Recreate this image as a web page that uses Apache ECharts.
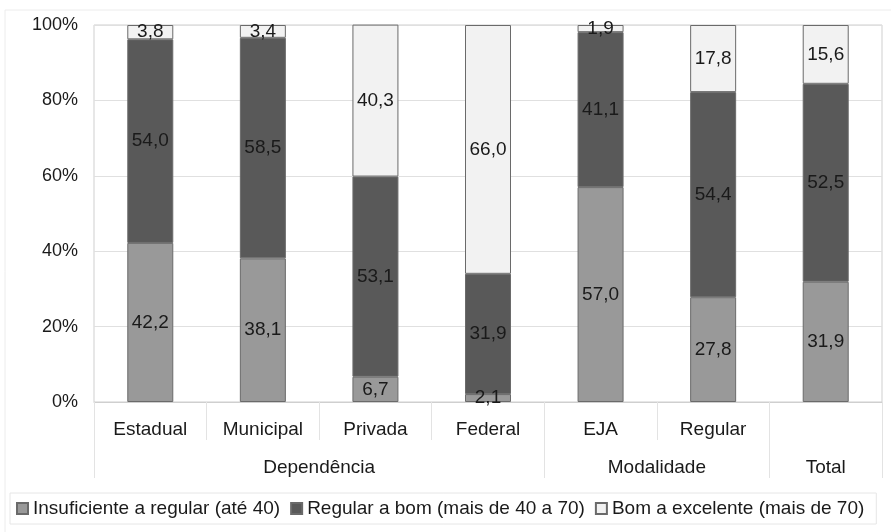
<!DOCTYPE html>
<html>
<head>
<meta charset="utf-8">
<script src="https://cdn.jsdelivr.net/npm/echarts@6/dist/echarts.min.js"></script>
<style>
  html, body { margin: 0; padding: 0; background: #fff; }
  #chart { width: 891px; height: 532px; }
</style>
</head>
<body>
<div id="chart"></div>
<script>
// Categories (first label row) and their groups (second label row)
const categories = ['Estadual', 'Municipal', 'Privada', 'Federal', 'EJA', 'Regular', ''];
const groupNames = ['Dependência', 'Modalidade', 'Total'];
const groupSpans = [4, 2, 1];

// Percentages per performance band
const seriesNames = [
  'Insuficiente a regular (até 40)',
  'Regular a bom (mais de 40 a 70)',
  'Bom a excelente (mais de 70)'
];
const insuficiente = [42.2, 38.1, 6.7, 2.1, 57.0, 27.8, 31.9];
const regularBom   = [54.0, 58.5, 53.1, 31.9, 41.1, 54.4, 52.5];
const bomExcelente = [3.8, 3.4, 40.3, 66.0, 1.9, 17.8, 15.6];

const yTicks = [0, 20, 40, 60, 80, 100];

const colors = ['#999999', '#595959', '#f2f2f2'];
const FONT = 'Liberation Sans, Arial, sans-serif';

// Group boundaries and centres along a 0..N value axis
const boundaries = [0];
const centres = [];
groupSpans.forEach(function (s) {
  const start = boundaries[boundaries.length - 1];
  centres.push(start + s / 2);
  boundaries.push(start + s);
});

const fmt = v => v.toFixed(1).replace('.', ',');

const chart = echarts.init(document.getElementById('chart'), null, { renderer: 'canvas' });

const seriesData = [insuficiente, regularBom, bomExcelente];

chart.setOption({
  animation: false,
  backgroundColor: '#ffffff',
  graphic: [{
    type: 'rect',
    shape: { x: 5, y: 10, width: 900, height: 540 },
    style: { fill: 'none', stroke: '#ececec', lineWidth: 1 },
    silent: true,
    z: -10
  }],
  grid: {
    left: 94, right: 9, top: 25, bottom: 130,
    show: true, borderColor: '#cfcfcf', borderWidth: 1
  },
  legend: {
    left: 10, top: 493,
    padding: [6, 12, 6, 6],
    itemWidth: 11, itemHeight: 11, itemGap: 10,
    borderColor: '#e6e6e6', borderWidth: 1,
    icon: 'rect',
    textStyle: { fontFamily: FONT, fontSize: 19, color: '#1a1a1a' },
    data: seriesNames
  },
  xAxis: [{
    type: 'category',
    data: categories,
    position: 'bottom',
    axisLine: { show: true, lineStyle: { color: '#cfcfcf' } },
    axisTick: { show: true, length: 38, lineStyle: { color: '#e3e3e3' } },
    axisLabel: { fontFamily: FONT, fontSize: 19, color: '#1a1a1a', margin: 18, interval: 0 },
    splitLine: { show: false }
  }, {
    type: 'value',
    min: 0, max: categories.length,
    position: 'bottom',
    axisLine: { show: false },
    axisTick: { show: true, length: 76, customValues: boundaries, lineStyle: { color: '#e3e3e3' } },
    axisLabel: {
      show: true, customValues: centres, margin: 56,
      fontFamily: FONT, fontSize: 19, color: '#1a1a1a',
      formatter: function (v) {
        const i = centres.indexOf(v);
        return i >= 0 ? groupNames[i] : '';
      }
    },
    splitLine: { show: false }
  }],
  yAxis: {
    type: 'value',
    min: yTicks[0], max: yTicks[yTicks.length - 1], interval: 20,
    axisLine: { show: false },
    axisTick: { show: false },
    axisLabel: { fontFamily: FONT, fontSize: 18, color: '#1a1a1a', margin: 16, formatter: '{value}%' },
    splitLine: { show: true, lineStyle: { color: '#e0e0e0' } }
  },
  series: seriesNames.map(function (name, i) {
    return {
      name: name,
      type: 'bar',
      stack: 'total',
      xAxisIndex: 0,
      barWidth: 46,
      data: seriesData[i],
      itemStyle: { color: colors[i], borderColor: '#6a6a6a', borderWidth: 1 },
      label: {
        show: true, position: 'inside',
        fontFamily: FONT, fontSize: 19, color: '#1a1a1a',
        formatter: p => fmt(p.value)
      }
    };
  })
});
</script>
</body>
</html>
